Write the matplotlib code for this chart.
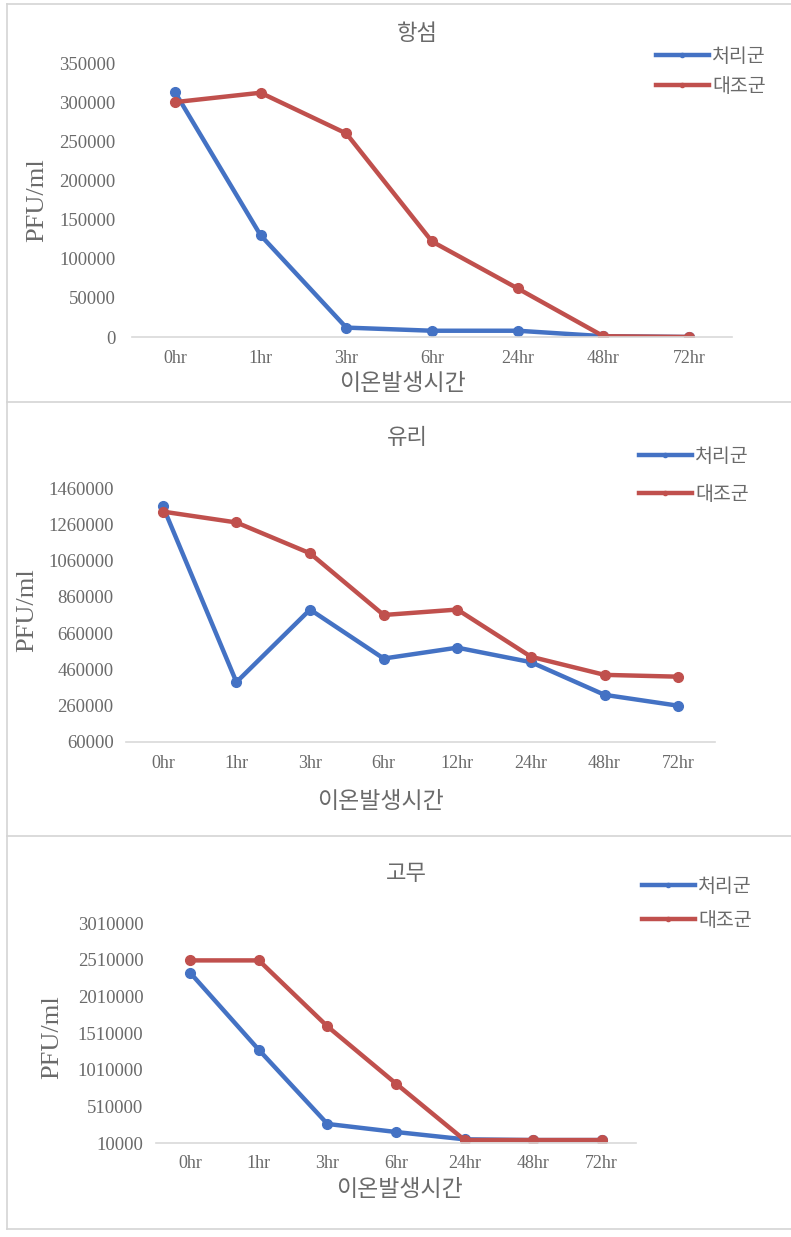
import matplotlib
matplotlib.use('Agg')
import matplotlib.pyplot as plt
from matplotlib.lines import Line2D

plt.rcParams['font.family'] = ['Noto Sans CJK KR', 'DejaVu Sans']

W, H = 791, 1237

series_names = ['처리군', '대조군']
line_colors = ['#4472C4', '#C0504D']
xlabel = '이온발생시간'
ylabel = 'PFU/ml'

# 합섬
syn_titles = '항섬'
syn_times = ['0hr', '1hr', '3hr', '6hr', '24hr', '48hr', '72hr']
syn_treat = [313000, 130000, 12000, 8000, 8000, 1000, 0]
syn_ctrl = [300000, 312000, 260000, 122000, 62000, 1000, 0]
syn_yticks = [0, 50000, 100000, 150000, 200000, 250000, 300000, 350000]

# 유리
glass_title = '유리'
glass_times = ['0hr', '1hr', '3hr', '6hr', '12hr', '24hr', '48hr', '72hr']
glass_treat = [1360000, 390000, 790000, 520000, 580000, 500000, 320000, 260000]
glass_ctrl = [1330000, 1270000, 1100000, 760000, 790000, 530000, 430000, 420000]
glass_yticks = [60000, 260000, 460000, 660000, 860000, 1060000, 1260000, 1460000]

# 고무
rubber_title = '고무'
rubber_times = ['0hr', '1hr', '3hr', '6hr', '24hr', '48hr', '72hr']
rubber_treat = [2330000, 1280000, 270000, 160000, 60000, 50000, 50000]
rubber_ctrl = [2500000, 2500000, 1600000, 820000, 50000, 50000, 50000]
rubber_yticks = [10000, 510000, 1010000, 1510000, 2010000, 2510000, 3010000]

TXT = '#6A6A6A'
SERIF = ['Liberation Serif', 'DejaVu Serif']


def fx(x):
    return x / W


def fy(y):
    return 1 - y / H


def draw_panel(fig, box, title, times, treat, ctrl, yticks, ypad,
               title_xy, xlabel_xy, ylabel_xy, legend_xy, legend_gap):
    left, top, right, bottom = box
    ax = fig.add_axes([fx(left), fy(bottom), fx(right - left), (bottom - top) / H])
    x = list(range(len(times)))
    for vals, c, name in zip([treat, ctrl], line_colors, series_names):
        ax.plot(x, vals, color=c, lw=3.2, marker='o', ms=7, label=name,
                solid_capstyle='round')
    ax.set_xlim(-0.5, len(times) - 0.5)
    ax.set_ylim(yticks[0], yticks[-1])
    ax.set_xticks(x)
    ax.set_xticklabels(times, family=SERIF, fontsize=13, color=TXT)
    ax.set_yticks(yticks)
    ax.set_yticklabels([str(v) for v in yticks], family=SERIF, fontsize=13.5, color=TXT)
    ax.tick_params(axis='y', length=0, pad=ypad)
    ax.tick_params(axis='x', length=0, pad=9)
    for s in ['top', 'left', 'right']:
        ax.spines[s].set_visible(False)
    ax.spines['bottom'].set_color('#D9D9D9')
    ax.spines['bottom'].set_linewidth(1.2)
    ax.patch.set_alpha(0)

    fig.text(fx(title_xy[0]), fy(title_xy[1]), title, fontsize=16, color=TXT,
             ha='center', va='center', fontweight='light')
    fig.text(fx(xlabel_xy[0]), fy(xlabel_xy[1]), xlabel, fontsize=16.5, color=TXT,
             ha='center', va='center', fontweight='light')
    fig.text(fx(ylabel_xy[0]), fy(ylabel_xy[1]), ylabel, fontsize=19, color=TXT,
             ha='center', va='center', rotation=90, family=SERIF)

    handles = [Line2D([], [], color=c, lw=3.2, marker='o', ms=3) for c in line_colors]
    leg = ax.legend(handles, series_names, loc='upper left',
                    bbox_to_anchor=(fx(legend_xy[0]), fy(legend_xy[1])),
                    bbox_transform=fig.transFigure, frameon=False,
                    handlelength=2.7, handletextpad=0.2, labelspacing=legend_gap,
                    fontsize=14, borderaxespad=0, borderpad=0,
                    prop={'weight': 'light', 'size': 14})
    for t in leg.get_texts():
        t.set_color(TXT)
    return ax


fig = plt.figure(figsize=(W / 100, H / 100), dpi=100)
fig.patch.set_facecolor('white')

# panel frames
for yy in [4, 402, 836, 1229]:
    fig.add_artist(Line2D([fx(7), 1], [fy(yy), fy(yy)], color='#D4D4D4', lw=1.2))
fig.add_artist(Line2D([fx(7), fx(7)], [fy(4), fy(1229)], color='#D4D4D4', lw=1.2))

draw_panel(fig, (132, 63, 732, 337), syn_titles, syn_times, syn_treat, syn_ctrl,
           syn_yticks, 12, (417, 34), (402, 383), (37, 200), (656, 46), 0.45)
draw_panel(fig, (126, 488, 715, 742), glass_title, glass_times, glass_treat, glass_ctrl,
           glass_yticks, 9, (407, 437), (380, 802), (27, 610), (639, 446), 0.85)
draw_panel(fig, (156, 923, 636, 1143), rubber_title, rubber_times, rubber_treat, rubber_ctrl,
           rubber_yticks, 9, (406, 873), (399, 1190), (52, 1037), (642, 876), 0.65)

fig.savefig('out.png', dpi=100, facecolor='white')
